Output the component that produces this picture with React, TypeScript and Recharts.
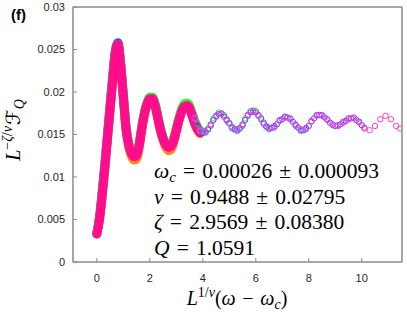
import React from 'react';
import { ComposedChart, Line, XAxis, YAxis, Customized } from 'recharts';

const xTicks = [0, 2, 4, 6, 8, 10];
const yTicks = [0, 0.005, 0.01, 0.015, 0.02, 0.025, 0.03];
const xDomain: [number, number] = [-0.9, 11.52];
const yDomain: [number, number] = [0, 0.03];

// dense part (x from 0 to 3.9)
const bandX = [0, 0.1, 0.2, 0.3, 0.4, 0.5, 0.6, 0.7, 0.8, 0.9, 1.0, 1.1, 1.2, 1.3, 1.4, 1.5, 1.6, 1.7, 1.8, 1.9, 2.0, 2.1, 2.2, 2.3, 2.4, 2.5, 2.6, 2.7, 2.8, 2.9, 3.0, 3.1, 3.2, 3.3, 3.4, 3.5, 3.6, 3.7, 3.8, 3.9];
const pinkY = [0.0033, 0.005, 0.0078, 0.011, 0.0145, 0.018, 0.0214, 0.0246, 0.0256, 0.0231, 0.0195, 0.0158, 0.0138, 0.0128, 0.0124, 0.0125, 0.0138, 0.0158, 0.0175, 0.0186, 0.0192, 0.0192, 0.0184, 0.017, 0.0156, 0.0145, 0.0138, 0.0135, 0.0136, 0.0143, 0.0155, 0.0167, 0.0177, 0.0183, 0.0184, 0.0181, 0.0172, 0.0163, 0.0156, 0.0152];
const orangeY = [0.0033, 0.005, 0.0078, 0.011, 0.0145, 0.018, 0.0214, 0.0245, 0.0254, 0.023, 0.0193, 0.0156, 0.0136, 0.0125, 0.012, 0.0121, 0.0134, 0.0155, 0.0173, 0.0185, 0.0191, 0.0191, 0.0183, 0.0168, 0.0154, 0.0143, 0.0135, 0.0131, 0.0132, 0.014, 0.0153, 0.0166, 0.0176, 0.0182, 0.0183, 0.018, 0.0171, 0.0162, 0.0155, 0.0151];
const blueBandY = [0.0034, 0.0053, 0.0082, 0.0115, 0.015, 0.0185, 0.0219, 0.0249, 0.0258, 0.0233, 0.0196, 0.0159, 0.0139, 0.0129, 0.0125, 0.0126, 0.0139, 0.0159, 0.0176, 0.0187, 0.0193, 0.0193, 0.0185, 0.0171, 0.0157, 0.0146, 0.0139, 0.0136, 0.0137, 0.0144, 0.0156, 0.0168, 0.0178, 0.0184, 0.0185, 0.0182, 0.0173, 0.0164, 0.0157, 0.0153];
const greenBandY = [0.0033, 0.0051, 0.0079, 0.0111, 0.0146, 0.0181, 0.0215, 0.0246, 0.0256, 0.0232, 0.0196, 0.016, 0.014, 0.013, 0.0126, 0.0127, 0.014, 0.016, 0.0177, 0.0188, 0.0194, 0.0194, 0.0186, 0.0172, 0.0158, 0.0147, 0.014, 0.0137, 0.0138, 0.0146, 0.0158, 0.017, 0.018, 0.0186, 0.0187, 0.0184, 0.0175, 0.0166, 0.0159, 0.0155];

// sparse parts, [x, y]
const greenPts: [number, number][] = [[3.8, 0.0162], [4.0, 0.0153], [4.2, 0.0157], [4.4, 0.0169], [4.6, 0.0176], [4.8, 0.0173], [5.0, 0.0164], [5.2, 0.0157], [5.4, 0.0158], [5.6, 0.0169], [5.8, 0.0178], [6.0, 0.0178], [6.2, 0.017], [6.4, 0.016]];
const cyanPts: [number, number][] = [[3.7, 0.0169], [3.9, 0.0154], [4.1, 0.0152], [4.3, 0.016], [4.5, 0.0171], [4.7, 0.0174], [4.9, 0.0166], [5.1, 0.0157], [5.3, 0.0154], [5.5, 0.016], [5.7, 0.0172], [5.9, 0.0177], [6.1, 0.0172], [6.3, 0.0162], [6.5, 0.0156], [6.7, 0.0158], [6.9, 0.0166], [7.1, 0.0171], [7.3, 0.0168], [7.5, 0.016], [7.7, 0.0154], [7.9, 0.0156]];
const bluePts: [number, number][] = [[3.8, 0.0161], [4.0, 0.0152], [4.2, 0.0156], [4.4, 0.0167], [4.6, 0.0174], [4.8, 0.0171], [5.0, 0.0163], [5.2, 0.0156], [5.4, 0.0157], [5.6, 0.0167], [5.8, 0.0176], [6.0, 0.0176], [6.2, 0.0168], [6.4, 0.0159], [6.6, 0.0158], [6.8, 0.0162], [7.0, 0.0168], [7.2, 0.017], [7.4, 0.0165], [7.6, 0.0158], [7.8, 0.0155], [8.0, 0.016], [8.2, 0.0169], [8.4, 0.0173], [8.6, 0.017], [8.8, 0.0164], [9.0, 0.016], [9.2, 0.0162], [9.4, 0.0166], [9.6, 0.0169], [9.8, 0.0167], [10.0, 0.0161]];
const purplePts: [number, number][] = [[3.7, 0.017], [3.9, 0.0156], [4.1, 0.0154], [4.3, 0.0162], [4.5, 0.0172], [4.7, 0.0175], [4.9, 0.0168], [5.1, 0.0159], [5.3, 0.0156], [5.5, 0.0162], [5.7, 0.0173], [5.9, 0.0178], [6.1, 0.0173], [6.3, 0.0164], [6.5, 0.0158], [6.7, 0.016], [6.9, 0.0167], [7.1, 0.0171], [7.3, 0.0169], [7.5, 0.0162], [7.7, 0.0156], [7.9, 0.0158], [8.1, 0.0166], [8.3, 0.0173], [8.5, 0.0173], [8.7, 0.0168], [8.9, 0.0162], [9.1, 0.0161], [9.3, 0.0165], [9.5, 0.0169], [9.7, 0.017], [9.9, 0.0165], [10.1, 0.0158]];
const magentaPts: [number, number][] = [[3.7, 0.0169], [3.9, 0.0155], [4.1, 0.0153], [4.3, 0.0161], [4.5, 0.0171], [4.7, 0.0174], [4.9, 0.0167], [5.1, 0.0158], [5.3, 0.0155], [5.5, 0.0161], [5.7, 0.0172], [5.9, 0.0177], [6.1, 0.0172], [6.3, 0.0163], [6.5, 0.0157], [6.7, 0.0159], [6.9, 0.0166], [7.1, 0.017], [7.3, 0.0168], [7.5, 0.0161], [7.7, 0.0155], [7.9, 0.0157], [8.1, 0.0165], [8.3, 0.0172], [8.5, 0.0172], [8.7, 0.0167], [8.9, 0.0161], [9.1, 0.016], [9.3, 0.0164], [9.5, 0.0168], [9.7, 0.0169], [9.9, 0.0164], [10.1, 0.0157], [10.3, 0.0155], [10.5, 0.016], [10.7, 0.0168], [10.9, 0.0172], [11.1, 0.0168], [11.3, 0.016], [11.45, 0.0157]];

const fitLines = [
  { sym: 'ω', sub: 'c', val: '0.00026', err: '0.000093' },
  { sym: 'ν', sub: '', val: '0.9488', err: '0.02795' },
  { sym: 'ζ', sub: '', val: '2.9569', err: '0.08380' },
  { sym: 'Q', sub: '', val: '1.0591', err: '' },
];

const rows = (xs: number[], ys: number[]) => xs.map((x, i) => ({ x, y: ys[i] }));
const pairs = (p: [number, number][]) => p.map(([x, y]) => ({ x, y }));

const SERIF = "'Liberation Serif', 'DejaVu Serif', serif";
const SANS = "'Liberation Sans', Arial, sans-serif";
const AXIS = '#8a8a8a';

// plot frame (layout of the chart box: margins + axis sizes)
const PLOT = { left: 73, top: 7, width: 329, height: 255 };

const Texts = () => (
  <g>
    <rect x={PLOT.left} y={PLOT.top} width={PLOT.width} height={PLOT.height} fill="none" stroke={AXIS} strokeWidth={1} />
    <text x={11} y={20} fontFamily={SANS} fontWeight="bold" fontSize={15} fill="#000">(f)</text>
    <g fontFamily={SERIF} fontSize={21.5} fill="#000">
      {fitLines.map((l, i) => (
        <text key={i} x={154} y={178 + i * 25.5}>
          <tspan fontStyle="italic">{l.sym}</tspan>
          {l.sub ? <tspan fontStyle="italic" fontSize={15} dy={4}>{l.sub}</tspan> : null}
          <tspan dy={l.sub ? -4 : 0}>{'\u2004=\u2004' + l.val + (l.err ? '\u2004±\u2004' + l.err : '')}</tspan>
        </text>
      ))}
    </g>
    <text x={237} y={305} textAnchor="middle" fontFamily={SERIF} fontSize={20} fill="#000">
      <tspan fontStyle="italic">L</tspan>
      <tspan fontSize={14} dy={-8}>1/</tspan>
      <tspan fontSize={14} fontStyle="italic">ν</tspan>
      <tspan dy={8}>(</tspan>
      <tspan fontStyle="italic">ω</tspan>
      <tspan>{'\u2004−\u2004'}</tspan>
      <tspan fontStyle="italic">ω</tspan>
      <tspan fontStyle="italic" fontSize={14} dy={4}>c</tspan>
      <tspan dy={-4}>)</tspan>
    </text>
    <text transform="rotate(-90)" x={-130} y={20} textAnchor="middle" fontFamily={SERIF} fontSize={20} fill="#000">
      <tspan fontStyle="italic">L</tspan>
      <tspan fontSize={14} dy={-8}>−</tspan>
      <tspan fontSize={14} fontStyle="italic">ζ</tspan>
      <tspan fontSize={14}>/</tspan>
      <tspan fontSize={14} fontStyle="italic">ν</tspan>
      <tspan dy={8} dx={1} fontFamily="'DejaVu Serif', 'DejaVu Sans', serif" fontStyle="italic">ℱ</tspan>
      <tspan fontSize={14} fontStyle="italic" dy={4}>Q</tspan>
    </text>
  </g>
);

const dotStyle = (c: string) => ({ r: 2.7, fill: 'none', stroke: c, strokeWidth: 1 });

const bandProps = {
  xAxisId: 'b',
  yAxisId: 'l',
  dataKey: 'y',
  type: 'monotone' as const,
  dot: false,
  activeDot: false,
  strokeWidth: 9,
  strokeLinecap: 'round' as const,
  strokeLinejoin: 'round' as const,
  isAnimationActive: false,
};

const ptProps = {
  xAxisId: 'b',
  yAxisId: 'l',
  dataKey: 'y',
  stroke: 'none',
  activeDot: false,
  isAnimationActive: false,
};

export default function App() {
  return (
    <div style={{ position: 'absolute', left: 0, top: 0, width: 407, height: 315, background: '#fff' }}>
      <ComposedChart width={407} height={315} margin={{ top: 2, right: 0, bottom: 0, left: 0 }}>
        <XAxis xAxisId="b" type="number" dataKey="x" domain={xDomain} ticks={xTicks} allowDataOverflow
          orientation="bottom" height={53} tickSize={-4} tickMargin={16} stroke={AXIS}
          tick={{ fill: '#262626', fontSize: 11, fontFamily: SANS }} />
        <XAxis xAxisId="t" type="number" dataKey="x" domain={xDomain} ticks={xTicks} allowDataOverflow
          orientation="top" height={5} tickSize={-4} stroke={AXIS} tick={false} />
        <YAxis yAxisId="l" type="number" dataKey="y" domain={yDomain} ticks={yTicks} allowDataOverflow
          width={73} tickSize={-4} tickMargin={12} stroke={AXIS}
          tick={{ fill: '#262626', fontSize: 11, fontFamily: SANS }} />
        <YAxis yAxisId="r" type="number" dataKey="y" domain={yDomain} ticks={yTicks} allowDataOverflow
          orientation="right" width={5} tickSize={-4} stroke={AXIS} tick={false} />

        <Line {...bandProps} data={rows(bandX, orangeY)} stroke="#ff8a1a" />
        <Line {...bandProps} data={rows(bandX, blueBandY)} stroke="#3b4bff" />
        <Line {...bandProps} data={rows(bandX, greenBandY)} stroke="#3cf03c" />

        <Line {...ptProps} data={pairs(greenPts)} dot={dotStyle('#3cf03c')} />
        <Line {...ptProps} data={pairs(cyanPts)} dot={dotStyle('#20c8ff')} />
        <Line {...ptProps} data={pairs(bluePts)} dot={dotStyle('#3b4bff')} />
        <Line {...ptProps} data={pairs(purplePts)} dot={dotStyle('#b040ff')} />
        <Line {...ptProps} xAxisId="t" yAxisId="r" data={pairs(magentaPts)} dot={dotStyle('#ff3ccf')} />

        <Line {...bandProps} data={rows(bandX, pinkY)} stroke="#ff0d8c" />
        <Customized component={Texts} />
      </ComposedChart>
    </div>
  );
}
